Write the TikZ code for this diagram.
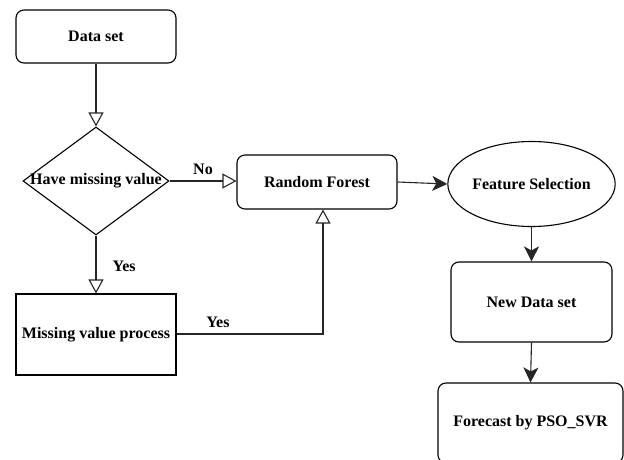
\documentclass[tikz,border=0pt]{standalone}
\usepackage{fontspec}
\setmainfont{Liberation Serif}
\usetikzlibrary{shapes.geometric,arrows.meta}
\begin{document}
\begin{tikzpicture}[x=1pt,y=-1pt,
  every node/.style={font=\fontsize{16}{19}\selectfont\bfseries},
  rbox/.style={draw,line width=1.1pt,rounded corners=8pt,inner sep=0pt},
  sbox/.style={draw,line width=1.1pt,inner sep=0pt},
  conn/.style={line width=1.1pt,draw=black!85},
  openarr/.style={conn,-{Triangle[open,length=14pt,width=15pt,line width=1.1pt]}},
  fillarr/.style={conn,-{Stealth[length=15pt,width=15pt,inset=4pt]}},
  lbl/.style={inner sep=0pt}
]
\useasboundingbox (0,0) rectangle (624,460);
\node[rbox,minimum width=160pt,minimum height=53pt] (ds) at (96,36.5) {Data set};
\node[draw,line width=1.1pt,diamond,aspect=1.35,minimum width=146pt,minimum height=108pt,inner sep=0pt] (hm) at (96,181) {};
\node at (96,181) {Have missing value};
\node[sbox,minimum width=160pt,minimum height=81pt] (mv) at (96,334.5) {Missing value process};
\node[rbox,minimum width=160pt,minimum height=54pt] (rf) at (317,182) {Random Forest};
\node[draw,line width=1.1pt,ellipse,minimum width=161pt,minimum height=85pt,inner sep=0pt] (fs) at (531.5,184) {Feature Selection};
\node[rbox,minimum width=161pt,minimum height=80pt] (nd) at (531.5,302) {New Data set};
\node[rbox,minimum width=185pt,minimum height=80pt] (fc) at (530.5,423) {Forecast by PSO\_SVR};
\coordinate (c1) at (323,334);
\draw[openarr] (ds) -- (hm.north);
\draw[openarr] (hm.east) -- (rf.west |- hm.east) node[lbl,midway,above=6pt] {No};
\draw[openarr] (hm.south) -- (mv.north) node[lbl,pos=0.53,right=16pt] {Yes};
\draw[openarr] (mv.east |- c1) -- (c1) -- (c1 |- rf.south);
\node[lbl] at (218,322) {Yes};
\draw[fillarr] (rf.east) -- (fs.west);
\draw[fillarr] (fs.south) -- (nd.north);
\draw[fillarr] (nd.south) -- (fc.north);
\end{tikzpicture}
\end{document}
